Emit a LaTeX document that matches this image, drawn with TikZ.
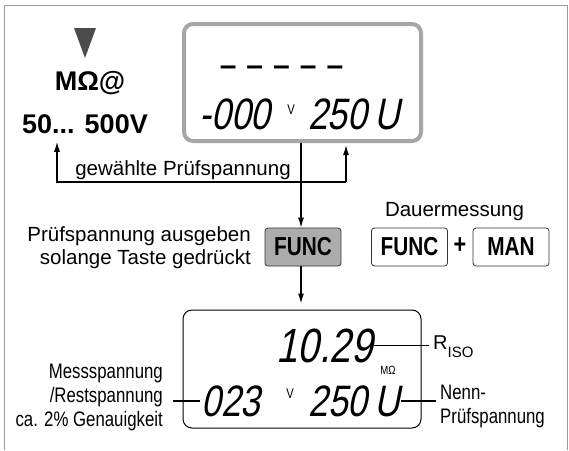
\documentclass[tikz,border=0pt]{standalone}
\usepackage{fontspec}
\setmainfont{Liberation Sans}
\newfontfamily\condsans[FakeStretch=0.8]{Liberation Sans}
\newfontfamily\lcdsans[FakeStretch=0.8,FakeSlant=0.2]{Liberation Sans}
\usetikzlibrary{arrows.meta}
\tikzset{
  frame/.style={draw=gray!80, line width=1pt},
  lcd/.style={draw=black, line width=1pt, rounded corners=9pt, minimum width=238pt, minimum height=118pt, inner sep=0pt},
  lcdgray/.style={lcd, draw=gray!70, line width=4pt, minimum width=237pt, minimum height=117pt},
  lcddigits/.style={inner sep=1pt, font=\lcdsans\fontsize{44}{44}\selectfont},
  dashrow/.style={inner sep=0pt, anchor=base, font=\bfseries\fontsize{30}{30}\selectfont},
  unitlbl/.style={inner sep=0pt, font=\condsans\fontsize{14}{14}\selectfont},
  keybtn/.style={draw=black!80, line width=0.8pt, rounded corners=3pt, minimum width=76pt, minimum height=38pt, inner sep=0pt, font=\condsans\bfseries\fontsize{26}{26}\selectfont},
  graykey/.style={keybtn, fill=gray!65},
  txt/.style={inner sep=0pt, font=\fontsize{20.5}{23}\selectfont},
  condtxt/.style={inner sep=0pt, font=\condsans\fontsize{21}{24}\selectfont},
  bigtxt/.style={inner sep=0pt, font=\bfseries\fontsize{27}{27}\selectfont},
  arrow/.style={-{Latex[length=10pt, width=6pt]}, line width=1.2pt},
  lead/.style={line width=1.2pt}
}

\begin{document}
\begin{tikzpicture}[x=1pt, y=-1pt]
  \useasboundingbox (0,0) rectangle (569,450);
  \draw[frame] (4,450) -- (4,5) -- (567,5) -- (567,450);

  % Schalterstellung
  \fill[black!70] (74,28) -- (96,28) -- (85,58) -- cycle;
  \node[bigtxt] (range) at (90,83) {MΩ@};
  \node[bigtxt] (volts) at (85,124) {50... 500V};

  % Anzeige vor der Messung
  \node[lcdgray] (lcdtop) at (302.5,82.5) {};
  \node[dashrow] (tdash) at (281.5,75) {–\hspace{10pt}–\hspace{10pt}–\hspace{10pt}–\hspace{10pt}–};
  \node[lcddigits] (tmeas) at (235,114.5) {-000};
  \node[unitlbl] (tv) at (291,110) {V};
  \node[lcddigits] (tset) at (354,114.5) {250\,U};

  \coordinate (selL) at (57,182);
  \coordinate (selR) at (346,182);
  \draw[arrow, shorten >=2pt] (selR) -- (selR |- lcdtop.south);
  \draw[arrow] (selR) -| ([yshift=-8pt]selL |- volts.south);
  \node[txt] (sellbl) at (183,170) {gewählte Prüfspannung};

  % Tasten
  \node[graykey] (funcg) at (303,247) {FUNC};
  \node[txt, anchor=east, align=right] (hold) at (251,248) {Prüfspannung ausgeben\\solange Taste gedrückt};
  \draw[arrow] (lcdtop.south -| 301,0) -- (funcg.north -| 301,0);

  \node[txt] (dauer) at (454.5,212) {Dauermessung};
  \node[keybtn] (funcw) at (409.5,247) {FUNC};
  \node[inner sep=0pt, font=\condsans\bfseries\fontsize{27}{27}\selectfont] (plus) at (460,246) {+};
  \node[keybtn] (man) at (511,247) {MAN};

  % Anzeige waehrend der Messung
  \node[lcd] (lcdbot) at (302,369) {};
  \draw[arrow, shorten >=6pt] (funcg.south -| 301,0) -- (lcdbot.north -| 301,0);
  \node[lcddigits, font=\lcdsans\fontsize{48}{48}\selectfont] (bres) at (324.5,345.5) {10.29};
  \node[unitlbl, font=\condsans\fontsize{12}{12}\selectfont] (bunit) at (388,370) {MΩ};
  \node[lcddigits] (bmeas) at (231,401) {023};
  \node[unitlbl] (bv) at (290,394) {V};
  \node[lcddigits] (bset) at (354.5,401) {250\,U};

  \node[txt, anchor=west, font=\fontsize{20}{20}\selectfont] (riso) at (433,347) {R\raisebox{-0.4em}{\fontsize{15}{15}\selectfont ISO}};
  \node[condtxt, anchor=west, align=left] (nenn) at (440,406) {Nenn-\\Prüfspannung};
  \node[condtxt, anchor=east, align=right] (mess) at (163,397.5) {Messspannung\\/Restspannung\\ca. 2\% Genauigkeit};

  \draw[lead] (bres.east) -- ([xshift=-4pt]bres.east -| riso.west);
  \draw[lead] (bset.east) -- ([xshift=-4pt]bset.east -| nenn.west);
  \draw[lead] (bmeas.west) -- ([xshift=10pt]bmeas.west -| mess.east);
\end{tikzpicture}
\end{document}
